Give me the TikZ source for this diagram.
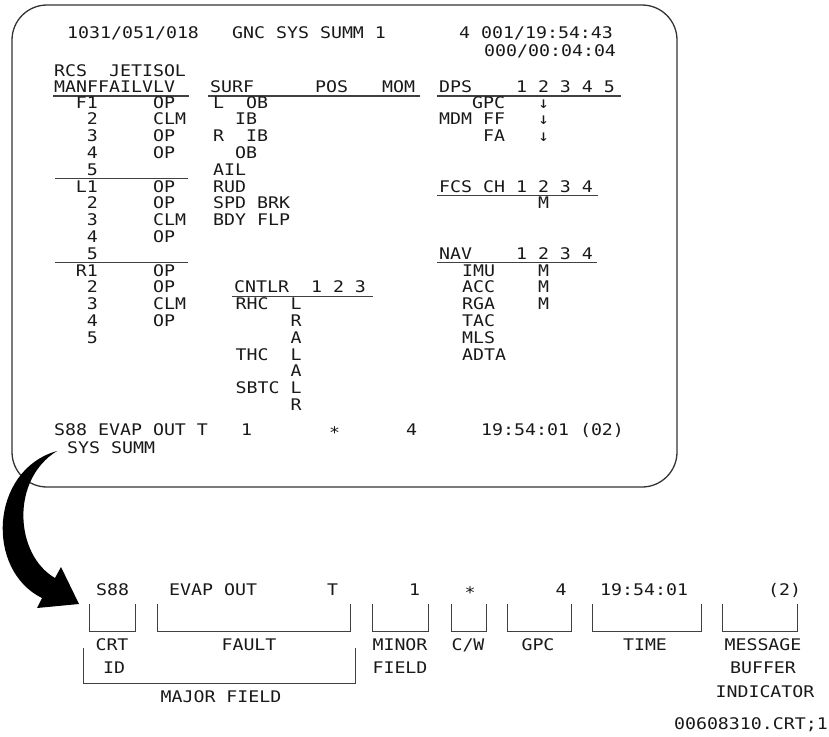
\documentclass[tikz,border=0pt]{standalone}
\usepackage{fontspec}
\newfontfamily\crtfont[FakeStretch=1.14]{DejaVu Sans Mono}
\usetikzlibrary{calc}
\tikzset{
crt/.style={font=\crtfont\fontsize{16pt}{16pt}\selectfont,
    anchor=base west, inner sep=0pt, text=black!90},
tag/.style={crt, anchor=base},
uline/.style={draw=black!75, line width=1.1pt},
brack/.style={draw=black!75, line width=1pt}
}

\begin{document}
\begin{tikzpicture}[x=1pt, y=-1pt]
\useasboundingbox (0,0) rectangle (829,736);

% screen frame
\draw[rounded corners=35pt, line width=1.3pt, black!80] (12,5) rectangle (677,487);

% header
\node[crt] (date)  at (67,38.5)  {1031/051/018};
\node[crt] (title) at (232,38.5) {GNC SYS SUMM 1};
\node[crt] (gmt)   at (459,38.5) {4 001/19:54:43};
\node[crt] (met)   at (484,56.5) {000/00:04:04};

% RCS block
\node[crt] (rcs)  at (54,76.5) {RCS~~JETISOL};
\node[crt] (manf) at (54,92)   {MANFFAILVLV};
\node[crt] (surf) at (210,92)  {SURF};
\node[crt] (pos)  at (315,92)  {POS};
\node[crt] (mom)  at (382,92)  {MOM};
\node[crt] (dps)  at (439,92)  {DPS~~~~1 2 3 4 5};
\draw[uline] (53,96) -- (189,96);
\draw[uline] (208,96) -- (420,96);
\draw[uline] (437,96) -- (621,96);

% rows on the 16.8pt line grid
\begin{scope}[yshift=-108pt, y=-16.8pt]
\foreach \k/\m in {0/F1,1/2,2/3,3/4,4/5,5/L1,6/2,7/3,8/4,9/5,10/R1,11/2,12/3,13/4,14/5}
  \node[crt, anchor=base east] (man-\k) at (98,\k) {\m};
\foreach \k/\v in {0/OP,1/CLM,2/OP,3/OP,5/OP,6/OP,7/CLM,8/OP,10/OP,11/OP,12/CLM,13/OP}
  \node[crt] (vlv-\k) at (153,\k) {\v};
\draw[uline] (55,4.2) -- (188,4.2);
\draw[uline] (55,9.2) -- (188,9.2);

% surfaces
\node[crt] (lob) at (213,0) {L~~OB};
\node[crt] (lib) at (235,1) {IB};
\node[crt] (rib) at (213,2) {R~~IB};
\node[crt] (rob) at (235,3) {OB};
\node[crt] (ail) at (213,4) {AIL};
\node[crt] (rud) at (213,5) {RUD};
\node[crt] (spd) at (213,6) {SPD BRK};
\node[crt] (bdy) at (213,7) {BDY FLP};

% DPS
\node[crt] (gpc)  at (472,0) {GPC};
\node[crt] (mdm)  at (439,1) {MDM FF};
\node[crt] (fa)   at (483,2) {FA};
\foreach \k in {0,1,2}
  \node[crt] (dn-\k) at (538,\k) {↓};

% FCS
\node[crt] (fcs)  at (439,5) {FCS CH 1 2 3 4};
\draw[uline] (437,5.2) -- (598,5.2);
\node[crt] (fcsm) at (538,6) {M};

% NAV
\node[crt] (nav)  at (439,9) {NAV~~~~1 2 3 4};
\draw[uline] (437,9.2) -- (597,9.2);
\foreach \k/\n in {10/IMU,11/ACC,12/RGA,13/TAC,14/MLS,15/ADTA}
  \node[crt] (nav-\k) at (462,\k) {\n};
\foreach \k in {10,11,12}
  \node[crt] (navm-\k) at (538,\k) {M};

% controllers
\node[crt] (cntlr) at (234,11) {CNTLR~~1 2 3};
\draw[uline] (232,11.2) -- (373,11.2);
\node[crt] (rhc)  at (235.5,12) {RHC~~L};
\node[crt] (rhcr) at (290.5,13) {R};
\node[crt] (rhca) at (290.5,14) {A};
\node[crt] (thc)  at (235.5,15) {THC~~L};
\node[crt] (thca) at (290.5,16) {A};
\node[crt] (sbtc) at (235.5,17) {SBTC L};
\node[crt] (sbtr) at (290.5,18) {R};
\end{scope}

% fault message line
\node[crt] (msg)  at (54,435)  {S88 EVAP OUT T};
\node[crt] (mnr)  at (241,435) {1};
\node[crt] (cw)   at (329,438) {*};
\node[crt] (gpcn) at (406,435) {4};
\node[crt] (tm)   at (481,435) {19:54:01 (02)};
\node[crt] (sys)  at (67,453)  {SYS SUMM};

% big arrow
\fill[black] (57,451) .. controls (-10,470) and (-15,570) .. (42,598)
  -- (37,608) -- (79,604) -- (61,567) -- (55,578)
  .. controls (15,555) and (10,480) .. (57,451) -- cycle;

% expanded message line
\node[crt] (s88)  at (96,595)  {S88};
\node[crt] (evap) at (169,595) {EVAP OUT};
\node[crt] (t)    at (327,595) {T};
\node[crt] (one)  at (409,595) {1};
\node[crt] (star) at (464.5,598) {*};
\node[crt] (four) at (555.5,595) {4};
\node[crt] (time) at (600,595) {19:54:01};
\node[crt] (buf)  at (768,595) {(2)};

% brackets
\draw[brack] (89,604) |- (135,631) -- (135,604);
\draw[brack] (157,604) |- (350,631) -- (350,604);
\draw[brack] (372,604) |- (428,631) -- (428,604);
\draw[brack] (451,604) |- (486,631) -- (486,604);
\draw[brack] (507,604) |- (571,631) -- (571,604);
\draw[brack] (592,604) |- (701,631) -- (701,604);
\draw[brack] (722,604) |- (797,631) -- (797,604);
\draw[brack] (83,648) |- (355,683) -- (355,648);

% field names
\node[tag] (crtid)  at (112,650) {CRT};
\node[tag] (id)     at (114,673) {ID};
\node[tag] (fault)  at (249,650) {FAULT};
\node[tag] (minor)  at (400,650) {MINOR};
\node[tag] (field)  at (400,673) {FIELD};
\node[tag] (cwl)    at (468,650) {C/W};
\node[tag] (gpcl)   at (538,650) {GPC};
\node[tag] (timel)  at (645,650) {TIME};
\node[tag] (mess)   at (763,650) {MESSAGE};
\node[tag] (buff)   at (763,673) {BUFFER};
\node[tag] (ind)    at (765,697) {INDICATOR};
\node[tag] (major)  at (221,702) {MAJOR FIELD};
\node[crt, anchor=base east] (fig) at (828,729) {00608310.CRT;1};
\end{tikzpicture}
\end{document}
